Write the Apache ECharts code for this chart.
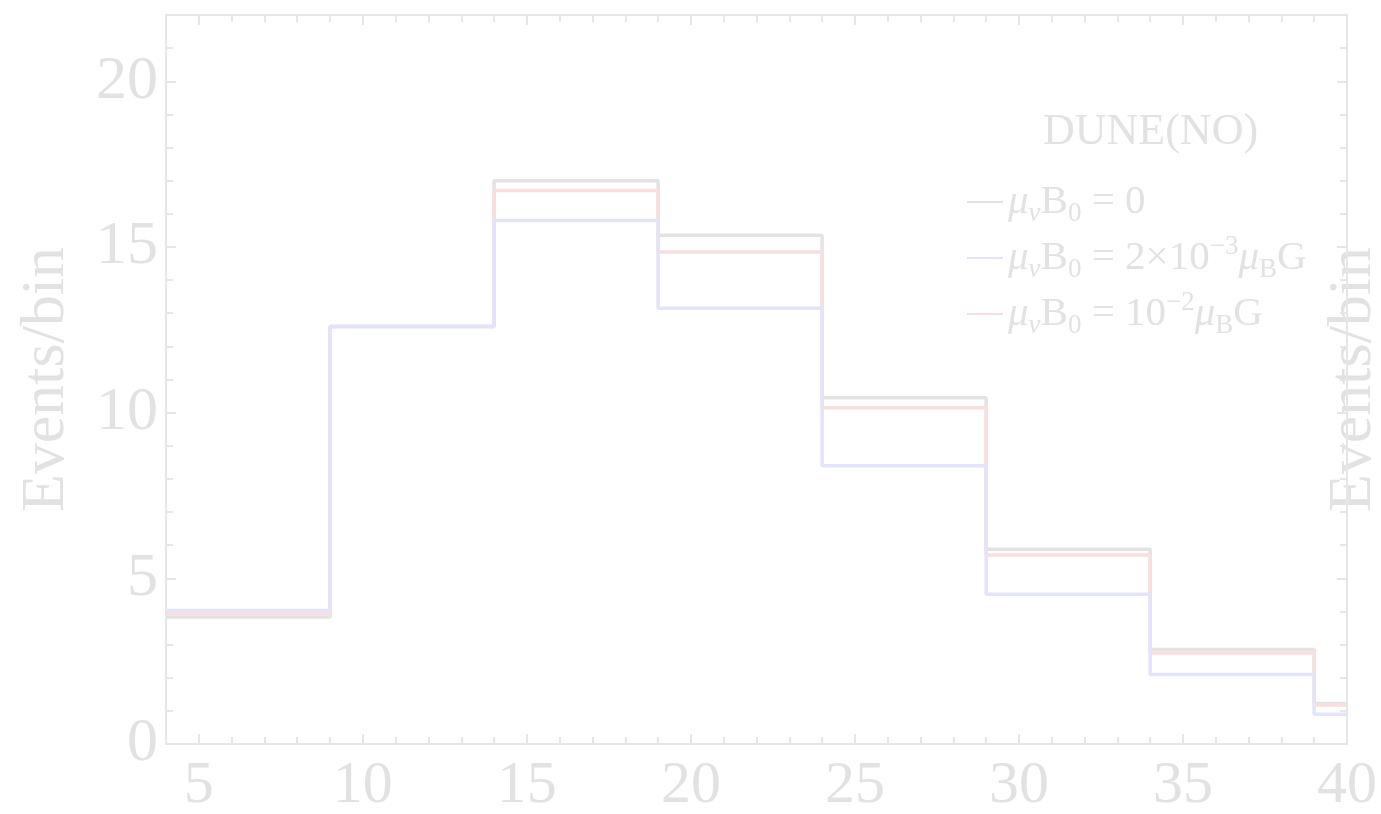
<!DOCTYPE html>
<html>
<head>
<meta charset="utf-8">
<script src="https://cdn.jsdelivr.net/npm/echarts@6/dist/echarts.min.js"></script>
<style>
html,body{margin:0;padding:0;background:#fff;}
#chart{width:1381px;height:814px;}
</style>
</head>
<body>
<div id="chart"></div>
<script>
// Bin edges (energy) and events per bin
var binEdges = [4, 9, 14, 19, 24, 29, 34, 39, 40];
var eventsNoField = [3.83, 12.6, 17.0, 15.35, 10.45, 5.88, 2.85, 1.22];      // mu B0 = 0
var eventsField2e3 = [4.03, 12.6, 15.8, 13.15, 8.4, 4.52, 2.1, 0.9];         // mu B0 = 2e-3 muB G
var eventsField1e2 = [3.93, 12.6, 16.7, 14.85, 10.15, 5.7, 2.75, 1.18];      // mu B0 = 1e-2 muB G
var xTickLabels = [5, 10, 15, 20, 25, 30, 35, 40];
var yTickLabels = [0, 5, 10, 15, 20];
var xMinorTicks = [5,6,7,8,9,10,11,12,13,14,15,16,17,18,19,20,21,22,23,24,25,26,27,28,29,30,31,32,33,34,35,36,37,38,39];
var yMinorTicks = [1,2,3,4,5,6,7,8,9,10,11,12,13,14,15,16,17,18,19,20,21];

var names = ['μνB0 = 0', 'μνB0 = 2×10^-3 μB G', 'μνB0 = 10^-2 μB G'];
var richNames = {};
richNames[names[0]] = '{m|μ}{si|ν}{r|B}{s|0}{r| = 0}';
richNames[names[1]] = '{m|μ}{si|ν}{r|B}{s|0}{r| = 2×10}{p|−3}{m|μ}{s|B}{r|G}';
richNames[names[2]] = '{m|μ}{si|ν}{r|B}{s|0}{r| = 10}{p|−2}{m|μ}{s|B}{r|G}';

function stepData(vals) {
  var d = [];
  for (var i = 0; i < vals.length; i++) d.push([binEdges[i], vals[i]]);
  d.push([binEdges[binEdges.length - 1], vals[vals.length - 1]]);
  return d;
}

var FONT = '"Liberation Serif", "DejaVu Serif", serif';
var AX = '#e6e6e6';
var TXT = '#e2e2e2';

function xAx(pos, major, labels) {
  return {
    type: 'value', min: 4, max: 40, position: pos,
    axisLine: {show: major, onZero: false, lineStyle: {color: AX, width: 2}},
    splitLine: {show: false},
    axisTick: {show: true, inside: true, length: major ? 10 : 7,
      customValues: major ? xTickLabels : xMinorTicks, lineStyle: {color: AX, width: 2}},
    axisLabel: {show: labels, customValues: xTickLabels, fontFamily: FONT, fontSize: 60,
      color: TXT, margin: 12}
  };
}
function yAx(pos, major, labels, name) {
  var a = {
    type: 'value', min: 0, max: 22, position: pos,
    axisLine: {show: major, onZero: false, lineStyle: {color: AX, width: 2}},
    splitLine: {show: false},
    axisTick: {show: true, inside: true, length: major ? 10 : 7,
      customValues: major ? yTickLabels : yMinorTicks, lineStyle: {color: AX, width: 2}},
    axisLabel: {show: labels, customValues: yTickLabels, fontFamily: FONT, fontSize: 62,
      color: TXT, margin: 8}
  };
  if (name) {
    a.name = 'Events/bin';
    a.nameLocation = 'middle';
    a.nameRotate = 90;
    a.nameGap = pos === 'left' ? 88 : -24;
    a.nameTextStyle = {fontFamily: FONT, fontSize: 62, color: TXT};
  }
  return a;
}

var chart = echarts.init(document.getElementById('chart'));
chart.setOption({
  animation: false,
  backgroundColor: '#ffffff',
  grid: {left: 166, right: 34, top: 15, bottom: 70, outerBoundsMode: 'none', containLabel: false},
  title: {text: 'DUNE(NO)', left: 1038, top: 105,
    textStyle: {fontFamily: FONT, fontSize: 44, fontWeight: 'normal', color: TXT}},
  legend: {
    orient: 'vertical', left: 962, top: 172, itemGap: 6,
    itemWidth: 36, itemHeight: 14, icon: 'path://M0,6 L36,6 L36,8 L0,8 Z',
    data: [names[0], names[1], names[2]],
    formatter: function (n) { return richNames[n]; },
    textStyle: {
      color: TXT, fontFamily: FONT, fontSize: 41, lineHeight: 50,
      rich: {
        m: {fontFamily: FONT, fontSize: 41, fontStyle: 'italic', color: TXT, lineHeight: 50, verticalAlign: 'middle'},
        r: {fontFamily: FONT, fontSize: 41, color: TXT, lineHeight: 50, verticalAlign: 'middle'},
        s: {fontFamily: FONT, fontSize: 27, color: TXT, lineHeight: 26, verticalAlign: 'bottom'},
        si: {fontFamily: FONT, fontSize: 27, fontStyle: 'italic', color: TXT, lineHeight: 26, verticalAlign: 'bottom'},
        p: {fontFamily: FONT, fontSize: 27, color: TXT, lineHeight: 26, verticalAlign: 'top'}
      }
    }
  },
  xAxis: [xAx('bottom', true, true), xAx('bottom', false, false), xAx('top', true, false), xAx('top', false, false)],
  yAxis: [yAx('left', true, true, true), yAx('left', false, false, false), yAx('right', true, false, true), yAx('right', false, false, false)],
  series: [
    {name: names[0], type: 'line', step: 'end', symbol: 'none', data: stepData(eventsNoField),
      lineStyle: {color: '#e3e3e3', width: 3.5}, itemStyle: {color: '#e3e3e3'}, z: 2},
    {name: names[2], type: 'line', step: 'end', symbol: 'none', data: stepData(eventsField1e2),
      lineStyle: {color: '#f9dede', width: 3.5}, itemStyle: {color: '#f9dede'}, z: 3},
    {name: names[1], type: 'line', step: 'end', symbol: 'none', data: stepData(eventsField2e3),
      lineStyle: {color: '#e3e3fa', width: 3.5}, itemStyle: {color: '#e3e3fa'}, z: 4}
  ]
});
</script>
</body>
</html>
